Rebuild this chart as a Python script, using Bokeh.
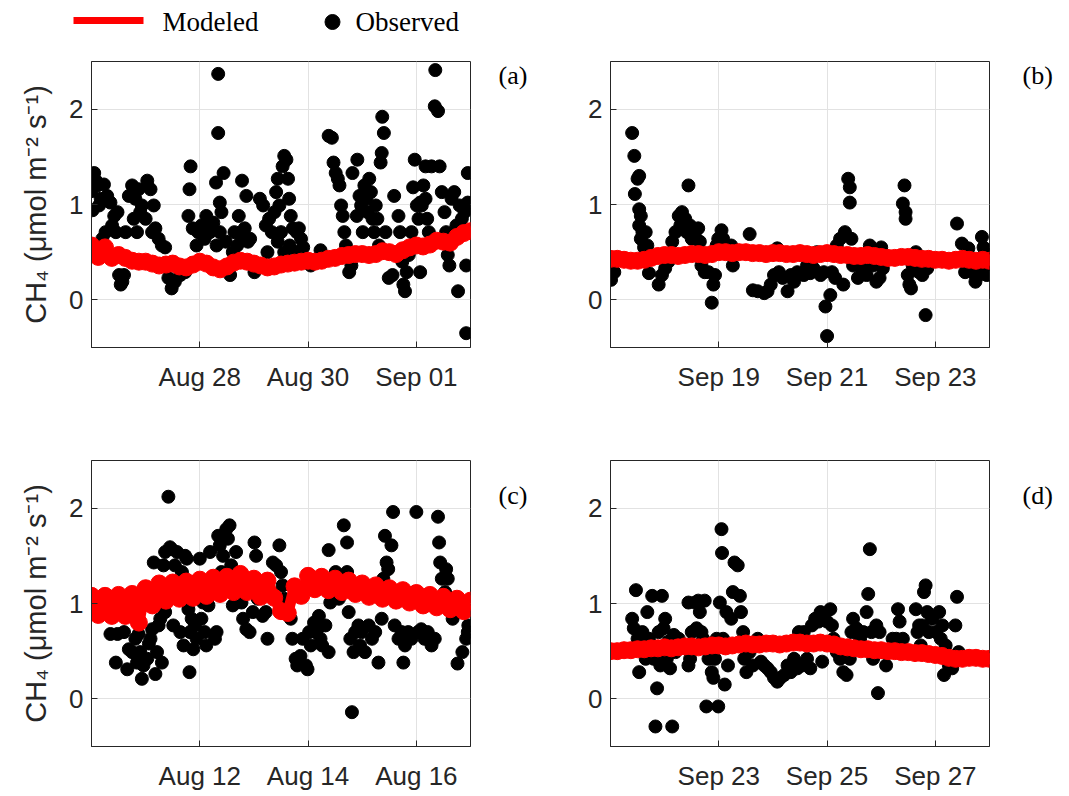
import pandas as pd
from bokeh.plotting import figure
from bokeh.layouts import column, row
from bokeh.models import Range1d, FixedTicker, DatetimeTickFormatter, ColumnDataSource
from bokeh.core.properties import value
from bokeh.embed import file_html
from bokeh.resources import INLINE

# ---------------- data ----------------
# observed: day offset from panel start, value (umol m-2 s-1)
a_start = "2016-08-26"
a_ticks = ["2016-08-28", "2016-08-30", "2016-09-01"]
a_obs_day = [0.00,0.05,0.08,0.02,0.11,0.17,0.14,0.23,0.29,0.20,
             0.26,0.35,0.42,0.38,0.45,0.48,0.51,0.54,0.57,0.60,
             0.63,0.69,0.75,0.78,0.81,0.84,0.87,0.90,0.93,1.00,
             1.03,1.09,1.12,1.15,1.18,1.24,1.30,1.36,1.42,1.48,
             1.54,1.64,1.73,1.79,1.81,1.83,1.87,1.94,1.97,2.03,
             2.09,2.12,2.19,2.25,2.30,2.34,2.34,2.37,2.40,2.44,
             2.37,2.31,2.48,2.56,2.61,2.64,2.69,2.72,2.75,2.78,
             2.83,2.86,2.89,2.93,3.01,3.07,3.11,3.17,3.22,3.28,
             3.33,3.38,3.41,3.44,3.47,3.50,3.53,3.56,3.60,3.63,
             3.65,3.68,3.72,3.79,3.83,3.87,3.25,3.44,3.56,3.66,
             3.80,3.91,4.05,4.23,4.38,4.44,4.47,4.51,4.55,4.58,
             4.61,4.64,4.67,4.70,4.76,4.80,4.82,4.91,4.90,4.95,
             4.98,5.01,5.04,5.07,5.10,5.13,5.16,5.19,5.22,5.25,
             5.28,5.31,5.34,5.36,5.37,5.40,5.43,5.46,5.49,5.56,
             5.59,5.67,5.70,5.74,5.76,5.79,5.82,5.86,5.91,5.94,
             5.97,6.01,6.04,6.07,6.07,6.10,6.13,6.17,6.20,6.23,
             6.17,6.28,6.35,6.34,6.40,6.43,6.47,6.52,6.55,6.58,
             6.61,6.65,6.70,6.74,6.77,6.80,6.84,6.89,6.92,6.92,
             6.95,6.95]
a_obs_val = [1.14,1.33,1.25,0.94,1.20,1.06,0.99,1.21,1.09,0.64,
             0.71,1.02,0.88,0.78,0.71,0.92,0.26,0.16,0.19,0.26,
             0.71,1.09,1.20,0.85,1.06,0.71,1.16,0.92,0.99,0.85,
             1.25,1.16,0.71,0.99,0.75,0.64,0.57,0.55,0.23,0.12,
             0.19,0.26,0.29,0.88,1.16,1.40,0.75,0.57,0.71,0.78,
             0.64,0.88,0.71,0.81,1.23,2.37,1.75,1.02,0.92,1.33,
             0.71,0.57,0.61,0.26,0.50,0.71,0.57,0.88,0.68,1.25,
             0.75,1.09,0.61,0.64,0.29,0.36,1.06,0.99,0.78,0.85,
             0.71,0.92,1.13,1.27,0.99,0.71,1.40,1.51,1.47,1.27,
             1.06,0.88,0.75,0.71,0.75,0.64,0.50,0.61,0.50,0.57,
             0.50,0.55,0.36,0.52,1.72,1.70,1.44,1.33,1.27,1.20,
             0.99,0.88,0.71,0.57,0.29,0.36,1.33,1.47,0.88,1.09,
             0.99,0.71,1.20,1.06,0.92,1.27,1.13,0.85,0.71,0.99,
             0.85,0.57,1.44,1.54,1.92,1.75,0.71,0.50,0.23,0.26,
             1.09,0.88,0.71,0.40,0.16,0.09,0.29,0.47,0.71,1.18,
             1.47,0.99,0.85,1.02,0.29,0.99,1.20,1.06,0.85,0.71,
             1.40,1.40,2.41,2.03,1.98,1.40,1.13,0.92,0.71,0.47,
             0.36,1.06,1.13,0.78,0.09,0.99,0.85,0.92,-0.35,0.36,
             1.33,1.02]
# modeled: 3-hourly values from panel start
a_mod_val = [0.57,0.45,0.55,0.44,0.47,0.44,0.41,0.40,
             0.40,0.38,0.36,0.37,0.38,0.35,0.34,0.37,
             0.40,0.38,0.34,0.32,0.35,0.39,0.41,0.40,
             0.38,0.36,0.34,0.35,0.37,0.38,0.39,0.40,
             0.41,0.40,0.41,0.43,0.44,0.46,0.47,0.48,
             0.48,0.47,0.48,0.51,0.50,0.48,0.52,0.55,
             0.57,0.56,0.58,0.62,0.61,0.60,0.66,0.70,
             0.72]

b_start = "2016-09-17"
b_ticks = ["2016-09-19", "2016-09-21", "2016-09-23"]
b_obs_day = [0.01,0.07,0.40,0.44,0.50,0.53,0.45,0.53,0.56,0.53,
             0.59,0.56,0.65,0.68,0.62,0.71,0.89,0.95,1.01,1.07,
             1.14,1.20,1.26,1.29,1.32,1.35,1.38,1.44,1.41,1.47,
             1.50,1.56,1.62,1.65,1.68,1.74,1.81,1.87,1.90,1.93,
             1.96,1.99,2.05,2.08,2.23,2.26,2.57,2.63,2.72,2.84,
             2.90,2.96,3.02,3.08,3.11,3.18,3.27,3.33,3.39,3.45,
             3.51,3.57,3.63,3.69,3.75,3.81,3.88,3.94,3.97,4.00,
             4.06,4.09,4.15,4.18,4.24,4.30,4.33,4.39,4.42,4.42,
             4.45,4.48,4.57,4.64,4.73,4.79,4.85,4.91,4.97,5.00,
             5.03,5.40,5.43,5.45,5.45,5.49,5.52,5.55,5.58,5.64,
             5.70,5.76,5.82,5.85,6.40,6.43,6.49,6.55,6.61,6.68,
             6.74,6.80,6.86,6.89,6.92,6.95,6.98]
b_obs_val = [0.21,0.29,1.75,1.51,1.27,1.30,1.11,0.95,0.88,0.78,
             0.71,0.64,0.71,0.57,0.55,0.28,0.16,0.26,0.33,0.40,
             0.61,0.71,0.88,0.78,0.92,0.75,0.85,1.20,0.71,0.78,
             0.64,0.71,0.75,0.61,0.36,0.29,0.29,-0.03,0.16,0.26,
             0.57,0.64,0.73,0.64,0.57,0.36,0.69,0.10,0.09,0.07,
             0.09,0.16,0.26,0.54,0.29,0.23,0.09,0.26,0.19,0.29,
             0.50,0.26,0.36,0.28,0.33,0.50,0.26,0.29,-0.07,-0.38,
             0.05,0.29,0.23,0.57,0.64,0.16,0.71,1.27,1.18,1.02,
             0.64,0.36,0.23,0.33,0.26,0.57,0.36,0.19,0.23,0.55,
             0.33,1.01,1.20,0.92,0.85,0.26,0.16,0.12,0.36,0.50,
             0.29,0.26,-0.16,0.33,0.80,0.43,0.59,0.29,0.54,0.29,
             0.19,0.26,0.66,0.55,0.36,0.26,0.47]
b_mod_val = [0.43,0.43,0.42,0.41,0.41,0.42,0.44,0.46,
             0.47,0.47,0.46,0.47,0.48,0.48,0.47,0.48,
             0.50,0.50,0.49,0.50,0.50,0.49,0.49,0.48,
             0.49,0.49,0.48,0.48,0.49,0.48,0.47,0.48,
             0.49,0.48,0.47,0.47,0.46,0.46,0.47,0.46,
             0.45,0.44,0.44,0.45,0.45,0.44,0.43,0.43,
             0.42,0.42,0.41,0.42,0.43,0.42,0.41,0.42,
             0.41]

c_start = "2016-08-10"
c_ticks = ["2016-08-12", "2016-08-14", "2016-08-16"]
c_obs_day = [0.35,0.45,0.48,0.60,0.66,0.69,0.75,0.81,0.84,0.87,
             0.90,0.93,0.96,1.03,1.06,1.09,1.12,1.15,1.18,1.21,
             1.24,1.27,1.30,1.33,1.36,1.36,1.42,1.45,1.48,1.51,
             1.54,1.58,1.61,1.64,1.67,1.70,1.73,1.76,1.79,1.81,
             1.82,1.85,1.88,1.91,1.94,2.00,2.03,2.06,2.09,2.12,
             2.16,2.19,2.22,2.28,2.31,2.34,2.37,2.40,2.43,2.49,
             2.52,2.55,2.58,2.61,2.67,2.74,2.77,2.80,2.86,2.92,
             2.98,3.01,3.04,3.07,3.10,3.16,3.22,3.25,3.32,3.35,
             3.41,3.47,3.50,3.53,3.56,3.68,3.71,3.77,3.80,3.86,
             3.90,3.96,3.99,4.02,4.05,4.11,4.14,4.17,4.20,4.23,
             4.26,4.32,4.38,4.38,4.41,4.44,4.51,4.57,4.66,4.72,
             4.72,4.75,4.78,4.81,4.84,4.87,4.93,4.96,4.99,5.05,
             5.12,5.18,5.24,5.30,5.36,5.39,5.42,5.45,5.48,5.54,
             5.57,5.60,5.67,5.73,5.76,5.79,5.85,5.91,5.97,6.00,
             6.03,6.09,6.15,6.21,6.28,6.34,6.40,6.42,6.44,6.47,
             6.53,6.55,6.58,6.64,6.67,6.76,6.85,6.92,6.95,6.96]
c_obs_val = [0.68,0.38,0.68,0.70,0.31,0.52,0.49,0.63,0.38,0.68,
             0.49,0.21,0.35,0.42,0.58,0.63,0.73,1.43,0.26,0.49,
             0.77,0.84,0.38,1.40,0.91,1.54,2.12,1.59,1.57,0.77,
             1.40,1.54,1.19,0.70,1.33,0.56,1.50,1.47,0.94,0.28,
             0.70,0.84,0.52,0.77,0.63,1.47,0.84,1.01,0.70,0.56,
             0.98,1.54,1.26,0.63,0.70,1.71,1.61,1.33,1.50,1.78,
             1.68,1.82,1.40,0.98,1.54,1.26,1.01,0.84,0.73,0.70,
             0.91,1.64,1.50,1.05,1.19,0.87,0.91,0.63,1.12,1.43,
             1.40,1.61,1.33,1.19,1.05,0.84,0.63,0.42,0.35,0.45,
             0.63,0.35,0.31,0.70,0.56,0.80,0.70,0.73,0.87,0.63,
             0.56,0.77,1.56,0.49,1.01,1.19,1.33,1.05,1.82,1.64,
             1.33,0.91,0.63,-0.14,0.49,0.70,0.77,0.56,0.70,0.49,
             0.77,0.63,0.70,0.38,0.84,1.26,1.71,1.43,1.36,1.61,
             1.96,0.77,0.63,0.70,0.38,0.56,0.70,0.63,1.12,1.96,
             0.70,0.73,0.63,0.70,0.56,0.63,1.91,1.64,1.43,1.26,
             1.12,1.36,1.26,1.05,0.84,0.37,0.49,0.63,0.70,0.77]
c_mod_val = [1.08,0.88,1.08,0.87,1.09,0.87,1.10,0.80,
             1.16,0.98,1.21,1.03,1.22,1.05,1.23,1.06,
             1.25,1.08,1.27,1.10,1.28,1.12,1.31,1.12,
             1.26,1.07,1.24,1.06,0.92,0.90,1.18,1.08,
             1.29,1.15,1.28,1.14,1.26,1.12,1.24,1.10,
             1.21,1.07,1.19,1.05,1.16,1.03,1.14,1.01,
             1.11,0.98,1.09,0.96,1.07,0.94,1.05,0.92,
             1.03]

d_start = "2016-09-21"
d_ticks = ["2016-09-23", "2016-09-25", "2016-09-27"]
d_obs_day = [0.40,0.43,0.47,0.50,0.53,0.59,0.65,0.68,0.71,0.77,
             0.80,0.83,0.86,0.89,0.92,0.95,0.98,1.01,1.04,1.07,
             1.10,1.14,1.17,1.20,1.26,1.44,1.44,1.47,1.50,1.56,
             1.59,1.62,1.65,1.68,1.71,1.74,1.77,1.81,1.87,1.90,
             1.93,1.96,1.99,2.02,2.05,2.06,2.08,2.11,2.14,2.17,
             2.23,2.26,2.29,2.35,2.39,2.41,2.45,2.47,2.51,2.57,
             2.63,2.72,2.78,2.84,2.90,2.96,3.02,3.08,3.14,3.21,
             3.27,3.33,3.39,3.45,3.48,3.54,3.57,3.63,3.69,3.72,
             3.78,3.84,3.88,3.91,3.94,4.00,4.06,4.09,4.12,4.18,
             4.24,4.30,4.36,4.42,4.45,4.48,4.54,4.61,4.67,4.73,
             4.76,4.79,4.82,4.85,4.91,4.94,4.97,5.03,5.09,5.15,
             5.21,5.28,5.31,5.34,5.40,5.46,5.64,5.67,5.70,5.73,
             5.76,5.79,5.82,5.85,5.88,5.94,6.01,6.07,6.10,6.13,
             6.16,6.19,6.25,6.31,6.37,6.40,6.43]
d_obs_val = [0.84,0.74,1.14,0.63,0.28,0.70,0.42,0.91,0.63,1.08,
             0.42,-0.29,0.11,0.70,0.35,1.08,0.74,0.84,0.42,0.60,
             0.32,-0.29,0.67,0.49,0.63,1.01,0.35,0.42,0.70,1.01,
             0.74,1.03,0.91,0.70,0.63,1.03,-0.08,0.42,0.28,0.22,
             0.42,0.63,-0.08,1.01,1.78,1.53,0.63,0.15,0.91,0.35,
             0.84,1.12,1.43,1.40,1.08,0.91,0.70,0.42,0.28,0.49,
             0.35,0.63,0.39,0.35,0.32,0.28,0.22,0.18,0.22,0.25,
             0.35,0.28,0.42,0.32,0.70,0.35,0.70,0.42,0.32,0.77,
             0.84,0.81,0.91,0.39,0.88,0.81,0.94,0.77,0.63,0.49,
             0.42,0.28,0.25,0.42,0.70,0.84,0.74,0.63,0.70,0.91,
             1.10,1.57,0.70,0.42,0.77,0.06,0.70,0.49,0.35,0.49,
             0.63,0.63,0.94,0.81,0.63,0.49,0.94,0.70,0.77,0.56,
             0.77,1.12,1.19,0.91,0.70,0.84,0.70,0.91,0.63,0.77,
             0.25,0.56,0.35,0.32,0.77,1.07,0.49]
d_mod_val = [0.50,0.50,0.51,0.51,0.52,0.52,0.53,0.53,
             0.54,0.53,0.54,0.55,0.55,0.54,0.55,0.56,
             0.56,0.55,0.56,0.57,0.58,0.57,0.57,0.58,
             0.58,0.57,0.58,0.59,0.59,0.58,0.58,0.59,
             0.58,0.57,0.55,0.54,0.53,0.52,0.52,0.51,
             0.51,0.50,0.50,0.49,0.49,0.48,0.48,0.47,
             0.46,0.45,0.43,0.42,0.42,0.43,0.43,0.42,
             0.42]

y_ticks = [0, 1, 2]
y_label = "CH\u2084 (\u03bcmol m\u207b\u00b2 s\u207b\u00b9)"
legend_labels = ["Modeled", "Observed"]
panel_tags = ["(a)", "(b)", "(c)", "(d)"]

# ---------------- styling ----------------
AX = "#262626"
GRID = "#e2e2e2"
SANS = "Liberation Sans"
SERIF = "Liberation Serif"
FRAME_W, FRAME_H = 379, 286
TOTAL_W = 1053
STRIP_H = 37


def make_panel(start, ticks, obs_day, obs_val, mod_val, left_col, top_row):
    t0 = pd.Timestamp(start)
    t1 = t0 + pd.Timedelta(days=7)
    p = figure(frame_width=FRAME_W, frame_height=FRAME_H, x_axis_type="datetime",
               x_range=Range1d(t0, t1), y_range=Range1d(-0.5, 2.5),
               output_backend="svg", toolbar_location=None,
               min_border_left=91 if left_col else 70,
               min_border_right=2,
               min_border_top=24 if top_row else 54,
               min_border_bottom=59 if top_row else 44,
               background_fill_color="white", border_fill_color="white")
    obs_src = ColumnDataSource(dict(
        t=t0 + pd.to_timedelta(obs_day, unit="D"), v=obs_val))
    mod_t = [t0 + pd.Timedelta(hours=3 * i) for i in range(len(mod_val))]
    mod_src = ColumnDataSource(dict(t=mod_t, v=mod_val))
    p.scatter("t", "v", source=obs_src, size=13, marker="circle",
              fill_color="black", line_color="black")
    p.line("t", "v", source=mod_src, line_color="#ff0000", line_width=11,
           line_join="round", line_cap="round")
    p.scatter("t", "v", source=mod_src, size=17, marker="circle",
              fill_color="#ff0000", line_color="#ff0000")

    fmt = DatetimeTickFormatter()
    for attr in ["microseconds", "milliseconds", "seconds", "minsec", "minutes",
                 "hourmin", "hours", "days", "months", "years"]:
        setattr(fmt, attr, "%b %d")
    p.xaxis.ticker = FixedTicker(ticks=[pd.Timestamp(t).value / 1e6 for t in ticks])
    p.xaxis.formatter = fmt
    p.yaxis.ticker = FixedTicker(ticks=y_ticks)
    for ax in (p.xaxis, p.yaxis):
        ax.axis_line_color = AX
        ax.major_tick_line_color = AX
        ax.major_tick_in = 6
        ax.major_tick_out = 0
        ax.minor_tick_line_color = None
        ax.major_label_text_font = SANS
        ax.major_label_text_font_size = "26px"
        ax.major_label_text_color = AX
    p.xaxis.major_label_standoff = 14
    p.yaxis.major_label_standoff = 8
    if left_col:
        p.yaxis.axis_label = y_label
        p.yaxis.axis_label_text_font = SANS
        p.yaxis.axis_label_text_font_size = "29px"
        p.yaxis.axis_label_text_font_style = "normal"
        p.yaxis.axis_label_text_color = AX
        p.yaxis.axis_label_standoff = 14
    p.grid.grid_line_color = GRID
    p.grid.grid_line_width = 1
    p.outline_line_color = AX
    p.outline_line_width = 1
    p.outline_line_alpha = 1.0
    return p


def make_tag(tag, width, height, x, y):
    # small strip to the right of a panel holding its "(a)" style tag;
    # its plot area lines up with the neighbouring panel's plot area
    f = figure(width=width, height=height, x_range=Range1d(0, width),
               y_range=Range1d(FRAME_H, 0), output_backend="svg",
               toolbar_location=None, min_border=0,
               background_fill_color="white", border_fill_color="white")
    f.axis.visible = False
    f.grid.visible = False
    f.outline_line_color = None
    f.text(x=[x], y=[y], text=[tag], text_font=value(SERIF), text_font_size="26px",
           text_color="black", text_baseline="alphabetic", text_align="left")
    return f


pa = make_panel(a_start, a_ticks, a_obs_day, a_obs_val, a_mod_val, True, True)
pb = make_panel(b_start, b_ticks, b_obs_day, b_obs_val, b_mod_val, False, True)
pc = make_panel(c_start, c_ticks, c_obs_day, c_obs_val, c_mod_val, True, False)
pd_ = make_panel(d_start, d_ticks, d_obs_day, d_obs_val, d_mod_val, False, False)

H_TOP = 24 + FRAME_H + 59
H_BOT = 54 + FRAME_H + 44
W_LEFT = 91 + FRAME_W + 2
W_GAP = 68
W_RIGHT = 70 + FRAME_W + 2
W_END = TOTAL_W - W_LEFT - W_GAP - W_RIGHT

ta = make_tag(panel_tags[0], W_GAP, H_TOP, 26, 14)
tb = make_tag(panel_tags[1], W_END, H_TOP, 31, 14)
tc = make_tag(panel_tags[2], W_GAP, H_BOT, 26, 35)
td = make_tag(panel_tags[3], W_END, H_BOT, 31, 35)

# ---------------- legend strip ----------------
lf = figure(width=TOTAL_W, height=STRIP_H, x_range=Range1d(0, TOTAL_W),
            y_range=Range1d(STRIP_H, 0),
            output_backend="svg", toolbar_location=None, min_border=0,
            background_fill_color="white", border_fill_color="white")
lf.axis.visible = False
lf.grid.visible = False
lf.outline_line_color = None
lf.segment(x0=[73], y0=[20], x1=[143], y1=[20], line_color="#ff0000", line_width=7)
lf.scatter(x=[332], y=[21.5], size=15, marker="circle", fill_color="black", line_color="black")
lf.text(x=[162, 355], y=[21.0, 21.0], text=legend_labels, text_font=value(SERIF),
        text_font_size="27px", text_color="black", text_baseline="alphabetic",
        text_align="left")

layout = column(lf, row(pa, ta, pb, tb), row(pc, tc, pd_, td))
open("out.html", "w").write(file_html(layout, INLINE))
